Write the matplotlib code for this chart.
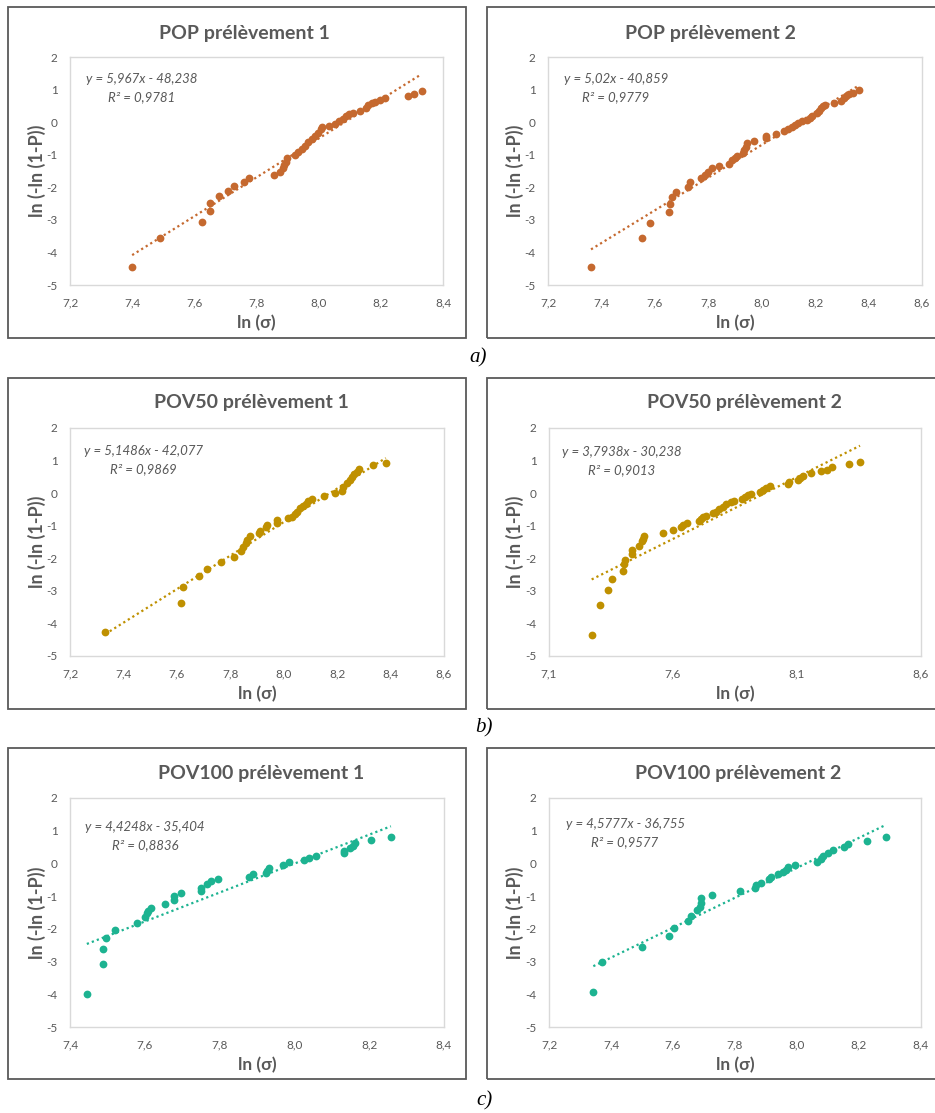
import matplotlib
matplotlib.use('Agg')
import matplotlib.pyplot as plt
import numpy as np
from matplotlib.patches import Rectangle
from matplotlib.ticker import FuncFormatter, MultipleLocator

plt.rcParams['font.family'] = ['Lato', 'DejaVu Sans']

# données : ln(sigma) et ln(-ln(1-P))
pop1_x = [7.40, 7.49, 7.624, 7.65, 7.65, 7.679, 7.708, 7.728, 7.759, 7.776, 7.857, 7.877, 7.884,
          7.89, 7.894, 7.899, 7.924, 7.935, 7.946, 7.956, 7.967, 7.978, 7.988, 7.999, 8.006, 8.012,
          8.034, 8.053, 8.066, 8.077, 8.088, 8.098, 8.111, 8.133, 8.152, 8.16, 8.17, 8.18, 8.197,
          8.213, 8.288, 8.307, 8.331]
pop1_y = [-4.45, -3.55, -3.07, -2.74, -2.49, -2.28, -2.12, -1.96, -1.84, -1.70, -1.61, -1.52, -1.42,
          -1.32, -1.21, -1.11, -1.01, -0.92, -0.82, -0.72, -0.62, -0.53, -0.43, -0.33, -0.22, -0.14,
          -0.12, -0.05, 0.03, 0.11, 0.18, 0.24, 0.29, 0.35, 0.42, 0.53, 0.60, 0.63, 0.68,
          0.74, 0.80, 0.86, 0.96]

pop2_x = [7.361, 7.553, 7.582, 7.652, 7.655, 7.663, 7.678, 7.724, 7.73, 7.772, 7.788, 7.80, 7.813,
          7.84, 7.878, 7.89, 7.90, 7.909, 7.931, 7.935, 7.94, 7.944, 7.972, 8.015, 8.015, 8.052,
          8.084, 8.10, 8.112, 8.125, 8.134, 8.15, 8.169, 8.181, 8.187, 8.208, 8.213, 8.221, 8.231,
          8.237, 8.272, 8.298, 8.308, 8.316, 8.325, 8.343, 8.365]
pop2_y = [-4.45, -3.57, -3.09, -2.76, -2.52, -2.30, -2.14, -1.99, -1.85, -1.73, -1.63, -1.52, -1.42,
          -1.35, -1.27, -1.16, -1.09, -1.03, -0.96, -0.85, -0.75, -0.65, -0.59, -0.50, -0.42, -0.35,
          -0.26, -0.22, -0.16, -0.10, -0.04, 0.02, 0.06, 0.14, 0.20, 0.28, 0.35, 0.42, 0.50,
          0.52, 0.58, 0.65, 0.73, 0.80, 0.85, 0.88, 0.99]

pov50_1_x = [7.332, 7.614, 7.623, 7.684, 7.714, 7.765, 7.814, 7.84, 7.849, 7.858, 7.864, 7.874,
             7.909, 7.911, 7.934, 7.936, 7.974, 7.976, 8.017, 8.03, 8.042, 8.051, 8.061, 8.071,
             8.083, 8.092, 8.107, 8.152, 8.192, 8.217, 8.223, 8.238, 8.248, 8.257, 8.263, 8.273,
             8.283, 8.336, 8.382]
pov50_1_y = [-4.27, -3.36, -2.89, -2.55, -2.33, -2.11, -1.95, -1.79, -1.66, -1.54, -1.43, -1.33,
             -1.22, -1.15, -1.03, -0.98, -0.91, -0.83, -0.77, -0.72, -0.65, -0.57, -0.47, -0.40,
             -0.32, -0.23, -0.17, -0.09, -0.01, 0.07, 0.19, 0.30, 0.40, 0.50, 0.58, 0.66,
             0.74, 0.85, 0.93]

pov50_2_x = [7.272, 7.306, 7.339, 7.355, 7.399, 7.404, 7.408, 7.433, 7.433, 7.461, 7.476, 7.481,
             7.485, 7.558, 7.598, 7.631, 7.642, 7.655, 7.706, 7.711, 7.722, 7.733, 7.76, 7.773,
             7.787, 7.80, 7.813, 7.834, 7.847, 7.877, 7.89, 7.904, 7.913, 7.951, 7.964, 7.975,
             7.991, 8.062, 8.069, 8.103, 8.112, 8.123, 8.155, 8.197, 8.219, 8.242, 8.311, 8.354]
pov50_2_y = [-4.36, -3.44, -2.97, -2.65, -2.40, -2.19, -2.04, -1.88, -1.74, -1.61, -1.48, -1.41,
             -1.31, -1.21, -1.13, -1.03, -0.98, -0.93, -0.85, -0.78, -0.73, -0.69, -0.62, -0.57,
             -0.50, -0.42, -0.33, -0.27, -0.23, -0.19, -0.13, -0.07, -0.02, 0.04, 0.10, 0.15,
             0.21, 0.27, 0.34, 0.39, 0.46, 0.53, 0.61, 0.67, 0.71, 0.80, 0.88, 0.96]

pov100_1_x = [7.445, 7.487, 7.489, 7.496, 7.519, 7.578, 7.60, 7.605, 7.609, 7.616, 7.654, 7.678,
              7.679, 7.697, 7.749, 7.75, 7.765, 7.777, 7.795, 7.879, 7.89, 7.923, 7.927, 7.933,
              7.97, 7.986, 8.026, 8.04, 8.057, 8.132, 8.132, 8.149, 8.156, 8.162, 8.206, 8.258]
pov100_1_y = [-3.98, -3.08, -2.62, -2.28, -2.03, -1.81, -1.65, -1.53, -1.46, -1.36, -1.23, -1.12,
              -1.01, -0.91, -0.83, -0.74, -0.63, -0.55, -0.48, -0.40, -0.32, -0.30, -0.22, -0.13,
              -0.05, 0.03, 0.09, 0.17, 0.23, 0.31, 0.38, 0.46, 0.53, 0.61, 0.72, 0.82]

pov100_2_x = [7.343, 7.372, 7.499, 7.586, 7.604, 7.648, 7.657, 7.679, 7.687, 7.69, 7.691, 7.725,
              7.816, 7.864, 7.868, 7.883, 7.911, 7.915, 7.938, 7.956, 7.963, 7.972, 7.993, 8.065,
              8.076, 8.083, 8.099, 8.117, 8.153, 8.166, 8.225, 8.286]
pov100_2_y = [-3.93, -3.02, -2.56, -2.22, -1.96, -1.77, -1.60, -1.43, -1.32, -1.20, -1.07, -0.95,
              -0.84, -0.76, -0.66, -0.59, -0.49, -0.41, -0.33, -0.26, -0.19, -0.11, -0.04, 0.05,
              0.13, 0.23, 0.32, 0.42, 0.51, 0.60, 0.69, 0.81]

titles = ['POP prélèvement 1', 'POP prélèvement 2', 'POV50 prélèvement 1',
          'POV50 prélèvement 2', 'POV100 prélèvement 1', 'POV100 prélèvement 2']
slopes = [5.967, 5.02, 5.1486, 3.7938, 4.4248, 4.5777]
intercepts = [-48.238, -40.859, -42.077, -30.238, -35.404, -36.755]
eq_texts = ['y = 5,967x - 48,238', 'y = 5,02x - 40,859', 'y = 5,1486x - 42,077',
            'y = 3,7938x - 30,238', 'y = 4,4248x - 35,404', 'y = 4,5777x - 36,755']
r2_texts = ['R² = 0,9781', 'R² = 0,9779', 'R² = 0,9869', 'R² = 0,9013', 'R² = 0,8836', 'R² = 0,9577']
captions = ['a)', 'b)', 'c)']

W, H = 935, 1113
fig = plt.figure(figsize=(W / 100, H / 100), dpi=100)


def fx(px):
    return px / W


def fy(py):
    return 1 - py / H


def fmt_comma(v, pos):
    return ('%.1f' % v).replace('.', ',')


grey = '#595959'
col_pop = '#C5692F'
col_pov50 = '#BF9000'
col_pov100 = '#1DB391'

# boxes in pixels: (x0, y0, x1, y1) of the plotting area
panels = [
    dict(x=pop1_x, y=pop1_y, c=col_pop, box=(70, 57, 443, 285), xlim=(7.2, 8.4), step=0.2,
         frame=(8, 7, 466, 338), tit=(244, 34), eq=(142, 79), ylab=37),
    dict(x=pop2_x, y=pop2_y, c=col_pop, box=(548, 57, 922, 285), xlim=(7.2, 8.6), step=0.2,
         frame=(487, 7, 945, 338), tit=(710, 34), eq=(616, 79), ylab=515),
    dict(x=pov50_1_x, y=pov50_1_y, c=col_pov50, box=(70, 428, 444, 656), xlim=(7.2, 8.6), step=0.2,
         frame=(8, 378, 466, 709), tit=(251, 402), eq=(143, 451), ylab=37),
    dict(x=pov50_2_x, y=pov50_2_y, c=col_pov50, box=(549, 428, 921, 656), xlim=(7.1, 8.6), step=0.5,
         frame=(487, 378, 945, 709), tit=(744, 402), eq=(622, 452), ylab=515),
    dict(x=pov100_1_x, y=pov100_1_y, c=col_pov100, box=(70, 798, 444, 1027), xlim=(7.4, 8.4), step=0.2,
         frame=(8, 748, 466, 1079), tit=(261, 774), eq=(145, 827), ylab=37),
    dict(x=pov100_2_x, y=pov100_2_y, c=col_pov100, box=(549, 798, 921, 1027), xlim=(7.2, 8.4), step=0.2,
         frame=(487, 748, 945, 1079), tit=(738, 774), eq=(625, 824), ylab=515),
]

for i, p in enumerate(panels):
    x0, y0, x1, y1 = p['box']
    ax = fig.add_axes([fx(x0), fy(y1), (x1 - x0) / W, (y1 - y0) / H])
    ax.plot(p['x'], p['y'], 'o', color=p['c'], markersize=5.6, markeredgewidth=0, zorder=3)
    # courbe de tendance (Excel) sur l'étendue des données
    xs = [min(p['x']), max(p['x'])]
    ax.plot(xs, [slopes[i] * v + intercepts[i] for v in xs], color=p['c'],
            linestyle=(0, (1, 1.4)), linewidth=1.6, zorder=2)
    ax.set_xlim(*p['xlim'])
    ax.set_ylim(-5, 2)
    ax.set_xticks(np.arange(p['xlim'][0], p['xlim'][1] + 1e-6, p['step']))
    ax.yaxis.set_major_locator(MultipleLocator(1))
    ax.xaxis.set_major_formatter(FuncFormatter(fmt_comma))
    ax.yaxis.set_major_formatter(FuncFormatter(lambda v, pos: '%d' % v))
    ax.tick_params(length=0, labelsize=8.5, colors=grey, pad=9)
    for s in ax.spines.values():
        s.set_color('#D9D9D9')
        s.set_linewidth(1.0)

    fx0, fy0, fx1, fy1 = p['frame']
    fig.add_artist(Rectangle((fx(fx0), fy(fy1)), (fx1 - fx0) / W, (fy1 - fy0) / H,
                             transform=fig.transFigure, fill=False, edgecolor=grey, linewidth=1.3))
    fig.text(fx(p['tit'][0]), fy(p['tit'][1]), titles[i], ha='center', va='center',
             fontsize=14, fontweight='bold', color=grey)
    fig.text(fx(p['eq'][0]), fy(p['eq'][1]), eq_texts[i], ha='center', va='center',
             fontsize=9.5, style='italic', color=grey)
    fig.text(fx(p['eq'][0]), fy(p['eq'][1] + 18), r2_texts[i], ha='center', va='center',
             fontsize=9.5, style='italic', color=grey)
    fig.text(fx((x0 + x1) / 2), fy(y1 + 38), 'ln (σ)', ha='center', va='center',
             fontsize=12.5, fontweight='bold', color=grey)
    fig.text(fx(p['ylab']), fy((y0 + y1) / 2), 'ln (-ln (1-P))', ha='center', va='center',
             rotation=90, fontsize=13, fontweight='bold', color=grey)

for cap, (cx, cy) in zip(captions, [(478, 358), (484, 728), (484, 1101)]):
    fig.text(fx(cx), fy(cy), cap, ha='center', va='center', fontsize=15,
             style='italic', family='Liberation Serif', color='black')

fig.savefig('out.png', dpi=100)
